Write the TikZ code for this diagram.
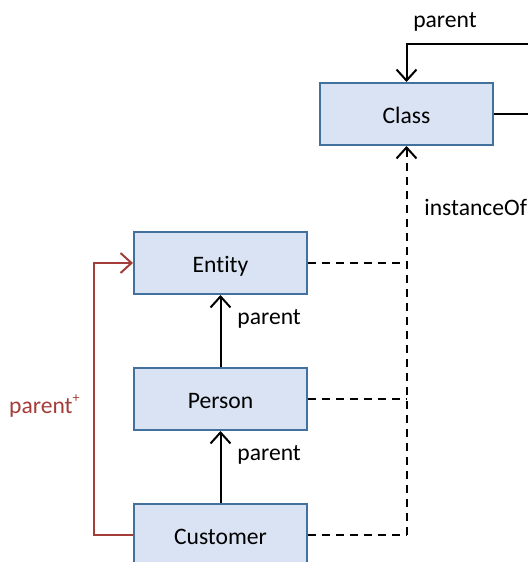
\documentclass[tikz,border=0pt]{standalone}
\usepackage{fontspec}
\setmainfont{Carlito}[Ligatures=NoCommon]
\usetikzlibrary{arrows.meta}
\definecolor{boxfill}{HTML}{DAE3F3}
\definecolor{boxdraw}{HTML}{41719C}
\definecolor{redline}{HTML}{A33D3A}
\begin{document}
\begin{tikzpicture}[x=0.5pt,y=-0.5pt,
  cls/.style={draw=boxdraw,fill=boxfill,line width=1pt,minimum width=86.5pt,minimum height=31pt,inner sep=0pt,text height=9pt,text depth=0pt,font=\fontsize{11.8}{14}\selectfont},
  lbl/.style={font=\fontsize{11.8}{14}\selectfont,inner sep=0pt},
  conn/.style={line width=1pt,-{Straight Barb[length=5.5pt,width=10pt,line width=1pt]}},
  inst/.style={line width=1pt,dash pattern=on 4pt off 3pt},
  red/.style={line width=1pt,draw=redline,-{Straight Barb[length=5.5pt,width=10pt,line width=1pt]}}]
\useasboundingbox (0,0) rectangle (528,562);
\clip (0,0) rectangle (528,562);
\node[cls] (class) at (406.5,114) {Class};
\node[cls] (entity) at (220.5,263) {Entity};
\node[cls] (person) at (220.5,399) {Person};
\node[cls] (customer) at (220.5,535) {Customer};
\coordinate (loopA) at (560,114);
\coordinate (loopB) at (560,44);
\coordinate (loopC) at (406.5,44);
\coordinate (redA) at (94,535);
\coordinate (redB) at (94,263);
\coordinate (jE) at (406.5,263);
\coordinate (jP) at (406.5,399);
\coordinate (jC) at (406.5,535);
% self loop
\draw[conn] (class.east) -- (loopA) -- (loopB) -- (loopC) -- (class.north);
\node[lbl] (lparent0) at (445,22) {parent};
% parent arrows
\draw[conn] (person.north) -- (entity.south);
\node[lbl,anchor=west] (lparent1) at (237,319) {parent};
\draw[conn] (customer.north) -- (person.south);
\node[lbl,anchor=west] (lparent2) at (237,455) {parent};
% instanceOf
\draw[inst] (entity.east) -- (jE);
\draw[inst] (person.east) -- (jP);
\draw[inst] (customer.east) -- (jC);
\draw[inst,-{Straight Barb[length=5.5pt,width=10pt,line width=1pt]}] (jC) -- (class.south);
\node[lbl,anchor=west] (linst) at (424,207) {instanceOf};
% transitive parent
\draw[red] (customer.west) -- (redA) -- (redB) -- (entity.west);
\node[lbl,anchor=east,text=redline] (lparentplus) at (80,406) {parent\raisebox{0.45em}{\fontsize{7}{8}\selectfont +}};
\end{tikzpicture}
\end{document}
